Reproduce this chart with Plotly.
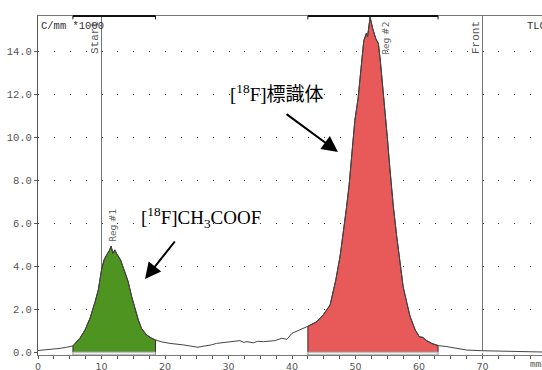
import plotly.graph_objects as go

# Radio-TLC scan: distance (mm) vs counts (C/mm *1000)
dist_mm = [0, 0.8, 2, 3.5, 4.5, 5.5, 6.0, 6.6, 7.4, 8.2, 9.0, 9.5, 10.0, 10.4, 10.9, 11.3, 11.5,
           11.8, 12.1, 12.4, 13.0, 13.7, 14.2, 14.75, 15.3, 15.8, 16.3, 17.1, 17.9, 18.5, 19.5,
           20.8, 22.9, 25.2, 26.0, 26.6, 27.3, 28.1, 29.0, 30.2, 31.0, 31.8, 32.4, 32.9, 33.9,
           34.6, 35.5, 36.4, 37.3, 38.4, 39.2, 40.0, 41.0, 42.5, 43.9, 44.9, 46.0, 46.5, 46.9,
           47.6, 48.1, 48.6, 49.0, 49.4, 49.9, 50.4, 51.0, 51.3, 51.7, 51.9, 52.3, 52.7, 53.2,
           53.6, 53.9, 54.3, 54.6, 55.0, 55.4, 55.7, 55.96, 56.5, 57.0, 57.5, 58.1, 58.6, 59.4,
           60.05, 60.6, 61.2, 62.0, 63.0, 64.4, 65.9, 67.5, 69.9, 72.2, 76.4, 79.4]
counts = [0.07, 0.09, 0.13, 0.17, 0.22, 0.28, 0.45, 0.64, 1.02, 1.58, 2.35, 2.9, 3.82, 4.29, 4.57,
          4.76, 4.94, 4.6, 4.76, 4.57, 4.29, 3.74, 3.28, 2.58, 1.96, 1.49, 1.1, 0.79, 0.64, 0.56,
          0.47, 0.4, 0.33, 0.22, 0.27, 0.29, 0.33, 0.4, 0.44, 0.48, 0.5, 0.53, 0.45, 0.48, 0.43,
          0.5, 0.48, 0.5, 0.53, 0.64, 0.59, 0.87, 0.99, 1.2, 1.41, 1.72, 2.19, 2.89, 3.36, 4.52,
          5.53, 6.77, 7.8, 9.1, 10.8, 11.8, 13.5, 14.5, 14.85, 14.7, 15.6, 15.08, 14.6, 14.38,
          13.6, 12.37, 11.28, 10.04, 8.6, 7.6, 6.77, 5.37, 4.06, 3.04, 2.27, 1.65, 1.03, 0.71,
          0.68, 0.53, 0.4, 0.3, 0.25, 0.17, 0.09, 0.06, 0.05, 0.03, 0.0]

regions = ["Reg #1", "Reg #2"]
region_start = [5.5, 42.5]
region_end = [18.5, 63.0]
region_colors = ["#4e9421", "#e85a5a"]
region_label_pos = [(11.8, 5.92), (54.8, 14.64)]

markers = ["Start", "Front"]
marker_pos = [10, 70]

y_ticks = [0, 2, 4, 6, 8, 10, 12, 14]
y_tick_text = ["0.0", "2.0", "4.0", "6.0", "8.0", "10.0", "12.0", "14.0"]
x_ticks = [0, 10, 20, 30, 40, 50, 60, 70]

X_MAX = 79.37
Y_MIN, Y_MAX = -0.14, 15.66

fig = go.Figure()

# filled regions
for name, s, e, col in zip(regions, region_start, region_end, region_colors):
    xs = [s] + [x for x in dist_mm if s <= x <= e] + [e]
    ys = [0] + [y for x, y in zip(dist_mm, counts) if s <= x <= e] + [0]
    fig.add_trace(go.Scatter(x=xs, y=ys, mode="lines", fill="tozeroy", fillcolor=col,
                             line=dict(color="#3a2a2a", width=1), hoverinfo="skip",
                             showlegend=False))

# full trace line
fig.add_trace(go.Scatter(x=dist_mm, y=counts, mode="lines",
                         line=dict(color="#444444", width=1), showlegend=False))

shapes = []
for s, e in zip(region_start, region_end):
    shapes.append(dict(type="rect", xref="x", yref="y", x0=s, x1=e, y0=Y_MIN, y1=0,
                       fillcolor="#eeeeee", line=dict(color="#999999", width=1), layer="above"))
    shapes.append(dict(type="line", xref="x", yref="paper", x0=s, x1=e, y0=1, y1=1,
                       line=dict(color="#111111", width=2)))
    for xx in (s, e):
        shapes.append(dict(type="line", xref="x", yref="paper", x0=xx, x1=xx, y0=1, y1=0.99,
                           line=dict(color="#111111", width=1)))
for m in marker_pos:
    shapes.append(dict(type="line", xref="x", yref="paper", x0=m, x1=m, y0=0, y1=1,
                       line=dict(color="#777777", width=1), layer="below"))

mono = "Liberation Mono, DejaVu Sans Mono, monospace"
annotations = []
for lab, m in zip(markers, marker_pos):
    annotations.append(dict(x=m, y=1, xref="x", yref="paper", text=lab, textangle=-90,
                            showarrow=False, xanchor="right", yanchor="top", xshift=1, yshift=-3,
                            font=dict(family=mono, size=11, color="#555555")))
for lab, (lx, ly) in zip(regions, region_label_pos):
    annotations.append(dict(x=lx, y=ly, xref="x", yref="y", text=lab, textangle=-90,
                            showarrow=False, xanchor="center", yanchor="middle",
                            font=dict(family="DejaVu Sans, sans-serif", size=9, color="#666666")))
annotations += [
    dict(x=0, y=1, xref="paper", yref="paper", text="C/mm *1000", showarrow=False,
         xanchor="left", yanchor="top", xshift=1, yshift=-2,
         font=dict(family=mono, size=10.5, color="#333333")),
    dict(x=1, y=1, xref="paper", yref="paper", text="TLC", showarrow=False,
         xanchor="left", yanchor="top", xshift=-17, yshift=-2,
         font=dict(family=mono, size=10.5, color="#333333")),
    dict(x=1, y=0, xref="paper", yref="paper", text="mm", showarrow=False,
         xanchor="right", yanchor="top", xshift=2, yshift=-2,
         font=dict(family=mono, size=9.5, color="#555555")),
    dict(x=25.6, y=6.25, xref="x", yref="y", text="[<sup>18</sup>F]CH<sub>3</sub>COOF",
         showarrow=False, xanchor="center", yanchor="middle",
         font=dict(family="Liberation Serif, serif", size=19, color="#000000")),
    dict(x=37.6, y=12.05, xref="x", yref="y", text="[<sup>18</sup>F]標識体",
         showarrow=False, xanchor="center", yanchor="middle",
         font=dict(family="Liberation Serif, Noto Sans CJK JP, serif", size=19, color="#000000")),
    dict(x=16.85, y=3.40, ax=21.73, ay=5.22, xref="x", yref="y", axref="x", ayref="y",
         text="", showarrow=True, arrowhead=2, arrowsize=1.6, arrowwidth=2, arrowcolor="#000000"),
    dict(x=47.24, y=9.32, ax=38.9, ay=11.14, xref="x", yref="y", axref="x", ayref="y",
         text="", showarrow=True, arrowhead=2, arrowsize=1.6, arrowwidth=2, arrowcolor="#000000"),
]

fig.update_layout(
    width=542, height=370,
    margin=dict(l=38, r=0, t=16, b=15, autoexpand=False),
    paper_bgcolor="white", plot_bgcolor="white",
    shapes=shapes, annotations=annotations,
    xaxis=dict(range=[0, X_MAX], tickvals=x_ticks, ticks="outside", ticklen=3,
               tickcolor="#555555", showline=True, linecolor="#777777", linewidth=1,
               mirror=True, showgrid=False, zeroline=False, automargin=False,
               ticklabelstandoff=0,
               tickfont=dict(family="DejaVu Sans, sans-serif", size=9.5, color="#555555"),
               minor=dict(dtick=2.5, tick0=0, ticks="outside", ticklen=3, tickcolor="#555555",
                          showgrid=False)),
    yaxis=dict(range=[Y_MIN, Y_MAX], tickvals=y_ticks, ticktext=y_tick_text, ticks="outside",
               ticklen=3, tickcolor="#555555", showline=True, linecolor="#555555", linewidth=1,
               showgrid=True, gridcolor="#333333", gridwidth=1, griddash="1px,14.875px",
               zeroline=True, zerolinecolor="white", zerolinewidth=2, automargin=False,
               tickfont=dict(family=mono, size=10.5, color="#555555")),
)

fig.write_html("out.html", config={"displayModeBar": False},
               post_script="document.body.style.margin='0';")
